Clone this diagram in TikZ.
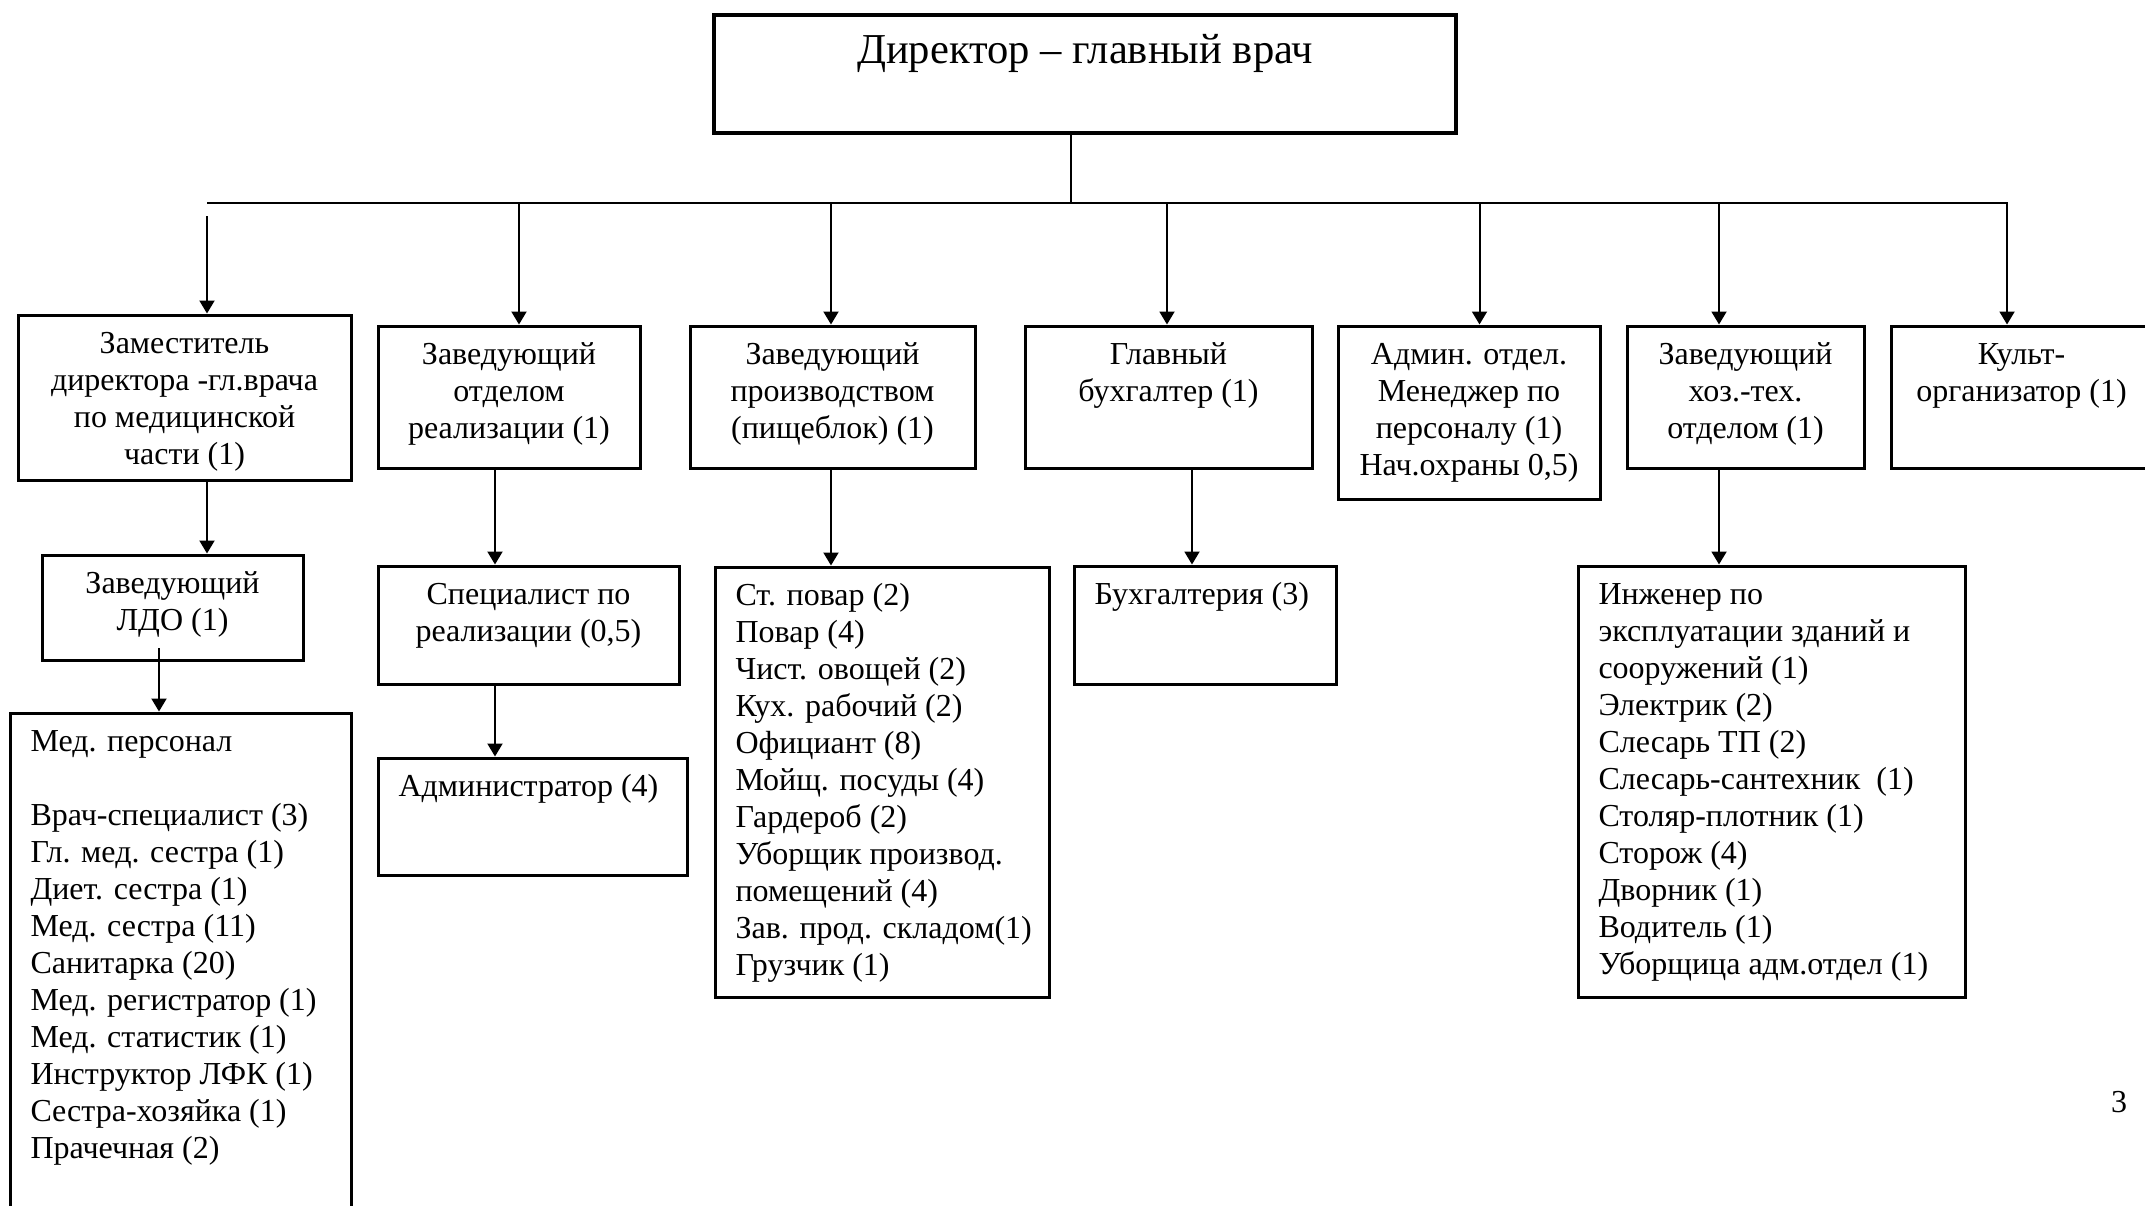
\documentclass[tikz,border=0pt]{standalone}
\usepackage{fontspec}
\setmainfont{Liberation Serif}
\usetikzlibrary{arrows.meta}
\tikzset{
  every node/.style={font=\fontsize{16}{18.5}\selectfont},
  box/.style={draw, line width=1.5pt, inner sep=0pt, anchor=north west},
  topbox/.style={box, line width=2pt},
  arr/.style={line width=1pt, -{Triangle[length=6.5pt,width=7.5pt]}},
  thinline/.style={line width=0.6pt}
}
\newcommand{\ctext}[3]{\parbox[t][#2pt][t]{#1pt}{\centering\rule{0pt}{19.25pt}#3\par}}
\newcommand{\ltext}[3]{\parbox[t][#2pt][t]{#1pt}{\raggedright\leftskip=10.25pt\rule{0pt}{19.25pt}#3\par}}
\begin{document}
\begin{tikzpicture}[x=0.5pt,y=-0.5pt]
\useasboundingbox (0,0) rectangle (2145,1205);
\clip (0,0) rectangle (2145,1205);
\fill[white] (0,0) rectangle (2145,1205);

% top box
\node[topbox] (dir) at (712,13) {\parbox[t][59pt][t]{371pt}{\centering\fontsize{21.3}{24}\selectfont\rule{0pt}{24pt}Директор – главный врач\par}};

% level 1
\node[box] (z1) at (16.5,313.5) {\ctext{166.5}{82.5}{Заместитель\\директора -гл.врача\\по медицинской\\части (1)}};
\node[box] (z2) at (376.5,324.5) {\ctext{131}{71}{Заведующий\\отделом\\реализации (1)}};
\node[box] (z3) at (688.5,324.5) {\ctext{142.5}{71}{Заведующий\\производством\\(пищеблок) (1)}};
\node[box] (z4) at (1023.5,324.5) {\ctext{143.5}{71}{Главный\\бухгалтер (1)}};
\node[box] (z5) at (1336.5,324.5) {\ctext{131}{86.5}{Админ. отдел.\\Менеджер по\\персоналу (1)\\Нач.охраны 0,5)}};
\node[box] (z6) at (1625.5,324.5) {\ctext{118.5}{71}{Заведующий\\хоз.-тех.\\отделом (1)}};
\node[box] (z7) at (1889.5,324.5) {\ctext{130.5}{71}{Культ-\\организатор (1)}};

% level 2
\node[box] (ldo) at (40.5,553.5) {\ctext{130.5}{52.5}{Заведующий\\ЛДО (1)}};
\node[box] (med) at (8.5,711.5) {\ltext{170.5}{270}{Мед. персонал\\~\\Врач-специалист (3)\\Гл. мед. сестра (1)\\Диет. сестра (1)\\Мед. сестра (11)\\Санитарка (20)\\Мед. регистратор (1)\\Мед. статистик (1)\\Инструктор ЛФК (1)\\Сестра-хозяйка (1)\\Прачечная (2)}};
\node[box] (spec) at (376.5,564.5) {\ctext{150.5}{59}{Специалист по\\реализации (0,5)}};
\node[box] (adm) at (376.5,756.5) {\ltext{154.5}{58.5}{Администратор (4)}};
\node[box] (cook) at (713.5,565.5) {\ltext{167}{215}{Ст. повар (2)\\Повар (4)\\Чист. овощей (2)\\Кух. рабочий (2)\\Официант (8)\\Мойщ. посуды (4)\\Гардероб (2)\\Уборщик производ.\\помещений (4)\\Зав. прод. складом(1)\\Грузчик (1)}};
\node[box] (buh) at (1072.5,564.5) {\ltext{131}{59}{Бухгалтерия (3)}};
\node[box] (eng) at (1576.5,564.5) {\ltext{193.5}{215.5}{Инженер по\\эксплуатации зданий и\\сооружений (1)\\Электрик (2)\\Слесарь ТП (2)\\Слесарь-сантехник~~(1)\\Столяр-плотник (1)\\Сторож (4)\\Дворник (1)\\Водитель (1)\\Уборщица адм.отдел (1)}};

\node (pg) at (2119,1102) {3};

% bus coordinates
\coordinate (busL) at (207,203);
\coordinate (busM) at (1071,203);
\coordinate (busR) at (2007,203);
\coordinate (s1) at (207,216);
\coordinate (c2) at (519,203);
\coordinate (c3) at (831,203);
\coordinate (c4) at (1167,203);
\coordinate (c5) at (1479.5,203);
\coordinate (c6) at (1719,203);
\coordinate (m1) at (159,648);
\coordinate (k2) at (495,0);
\coordinate (k4) at (1192,0);

\draw[thinline] (dir.south -| busM) -- (busM);
\draw[arr] (busL) -- (busR) -- (busR |- z7.north);
\draw[arr] (s1) -- (s1 |- z1.north);
\draw[arr] (c2) -- (c2 |- z2.north);
\draw[arr] (c3) -- (c3 |- z3.north);
\draw[arr] (c4) -- (c4 |- z4.north);
\draw[arr] (c5) -- (c5 |- z5.north);
\draw[arr] (c6) -- (c6 |- z6.north);

\draw[arr] (s1 |- z1.south) -- (s1 |- ldo.north);
\draw[arr] (m1) -- (m1 |- med.north);
\draw[arr] (k2 |- z2.south) -- (k2 |- spec.north);
\draw[arr] (k2 |- spec.south) -- (k2 |- adm.north);
\draw[arr] (c3 |- z3.south) -- (c3 |- cook.north);
\draw[arr] (k4 |- z4.south) -- (k4 |- buh.north);
\draw[arr] (c6 |- z6.south) -- (c6 |- eng.north);
\end{tikzpicture}
\end{document}
